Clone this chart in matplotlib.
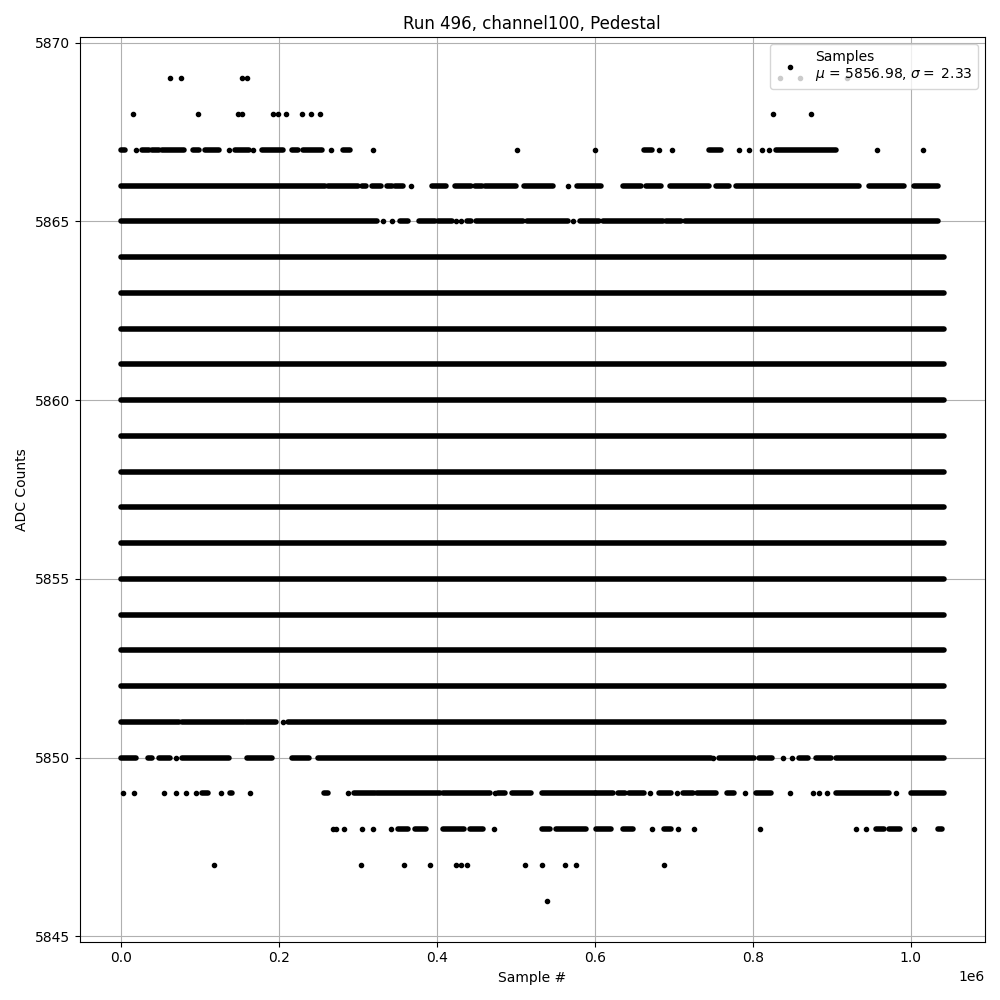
import numpy as np
import matplotlib
matplotlib.use('Agg')
import matplotlib.pyplot as plt

# Pedestal run summary
run_number = 496
channel = 100
mu = 5856.98
sigma = 2.33

# ADC levels that are filled with samples over the whole run
full_levels = [5852, 5853, 5854, 5855, 5856, 5857, 5858,
               5859, 5860, 5861, 5862, 5863, 5864]
first_sample = 0
last_sample = 1042  # thousands of samples

# partly filled levels: runs of touching samples (start, end), and lone samples
# all in thousands of samples
runs_5867 = [(0, 6), (27, 36), (40, 48), (52, 80), (92, 99), (107, 124),
             (145, 162), (179, 206), (217, 225), (231, 255), (282, 290),
             (663, 672), (745, 760), (829, 905)]
runs_5866 = [(0, 259), (263, 301), (305, 311), (318, 330), (337, 343),
             (347, 358), (394, 412), (423, 444), (448, 457), (461, 501),
             (511, 547), (578, 608), (636, 659), (665, 684), (695, 745),
             (754, 770), (779, 935), (947, 992), (1004, 1034)]
runs_5865 = [(0, 324), (354, 364), (377, 398), (402, 419), (438, 444),
             (450, 509), (514, 566), (581, 606), (610, 686), (690, 709),
             (714, 1034)]
runs_5851 = [(0, 74), (78, 156), (158, 196), (212, 1042)]
runs_5850 = [(0, 19), (34, 40), (49, 63), (78, 137), (160, 191), (217, 238),
             (250, 747), (758, 802), (808, 825), (859, 870), (880, 899),
             (905, 1042)]
runs_5849 = [(103, 111), (138, 141), (257, 263), (295, 322), (325, 404),
             (408, 467), (478, 486), (495, 520), (533, 600), (602, 623),
             (629, 638), (644, 663), (682, 697), (712, 724), (730, 754),
             (768, 776), (804, 823), (905, 973), (1000, 1042)]
runs_5848 = [(351, 364), (373, 387), (408, 434), (442, 459), (533, 543),
             (551, 589), (602, 621), (636, 648), (688, 697), (956, 966),
             (973, 987), (1034, 1040)]

dots_5869 = [62, 76, 153, 160, 835, 860, 920]
dots_5868 = [16, 98, 148, 153, 193, 199, 209, 229, 241, 252, 826, 874]
dots_5867 = [19, 137, 168, 266, 320, 502, 600, 682, 698, 783, 795, 812,
             821, 958, 1016]
dots_5866 = [368, 566]
dots_5865 = [332, 343, 425, 431, 572]
dots_5851 = [206]
dots_5850 = [70, 750, 838, 850]
dots_5849 = [3, 17, 55, 70, 83, 95, 127, 164, 288, 474, 670, 704, 790,
             847, 876, 884, 894, 982]
dots_5848 = [269, 272, 283, 306, 319, 342, 472, 672, 706, 726, 809, 931,
             944, 1004]
dots_5847 = [118, 304, 359, 391, 425, 431, 438, 512, 533, 562, 576, 688]
dots_5846 = [540]

runs = {5867: runs_5867, 5866: runs_5866, 5865: runs_5865, 5851: runs_5851,
        5850: runs_5850, 5849: runs_5849, 5848: runs_5848}
dots = {5869: dots_5869, 5868: dots_5868, 5867: dots_5867, 5866: dots_5866,
        5865: dots_5865, 5851: dots_5851, 5850: dots_5850, 5849: dots_5849,
        5848: dots_5848, 5847: dots_5847, 5846: dots_5846}

fig, ax = plt.subplots(figsize=(10, 10), dpi=100)

# dense stretches: a row of overlapping '.' markers looks like a thick round-capped line
seg_y, seg_x0, seg_x1 = [], [], []
for lvl in full_levels:
    seg_y.append(lvl)
    seg_x0.append(first_sample * 1e3)
    seg_x1.append(last_sample * 1e3)
for lvl, rr in runs.items():
    for a, b in rr:
        seg_y.append(lvl)
        seg_x0.append(a * 1e3)
        seg_x1.append(b * 1e3)
lc = ax.hlines(seg_y, seg_x0, seg_x1, colors='black', linewidth=4.0, zorder=2)
lc.set_capstyle('round')

xs, ys = [], []
for lvl, dd in dots.items():
    for d in dd:
        xs.append(d * 1e3)
        ys.append(lvl)
ax.plot(xs, ys, '.', color='black', zorder=2,
        label='Samples\n$\\mu$ = %.2f, $\\sigma =$ %.2f' % (mu, sigma))

ax.set_title('Run %d, channel%d, Pedestal' % (run_number, channel))
ax.set_xlabel('Sample #')
ax.set_ylabel('ADC Counts')
ax.grid(True)
ax.legend(loc='upper right')
plt.tight_layout()
plt.savefig('out.png')
